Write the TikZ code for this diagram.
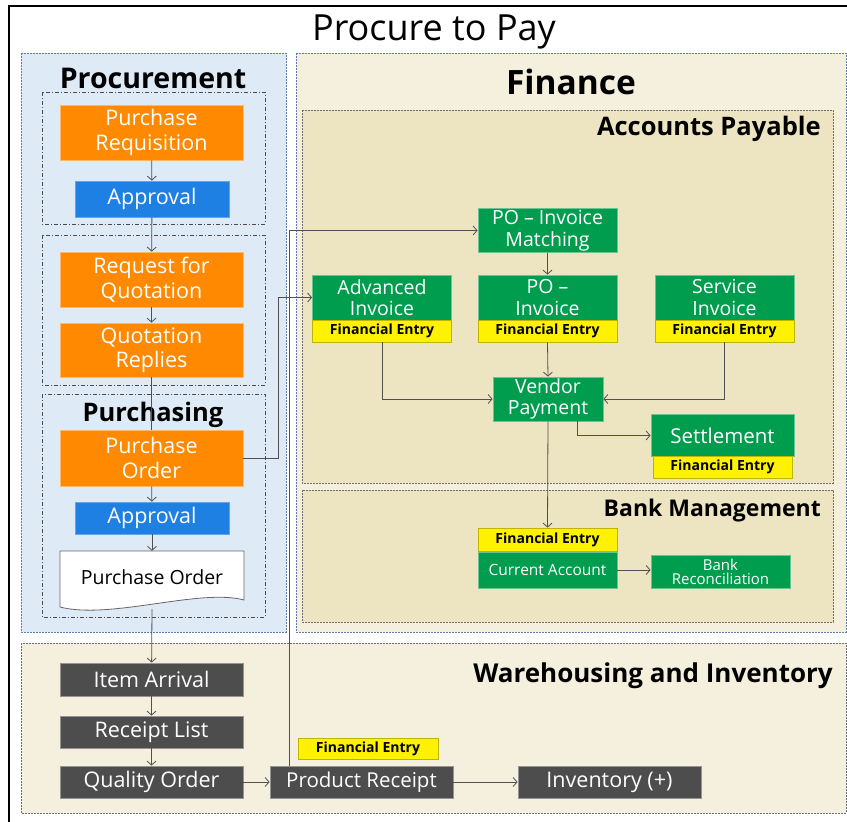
\documentclass[tikz,border=0pt]{standalone}
\usepackage{fontspec}
\setmainfont{Open Sans}
\usetikzlibrary{arrows.meta}

\definecolor{procorange}{RGB}{255,137,0}
\definecolor{approvblue}{RGB}{30,128,226}
\definecolor{fingreen}{RGB}{0,157,78}
\definecolor{entryyellow}{RGB}{255,242,0}
\definecolor{whgray}{RGB}{77,77,77}
\definecolor{procpanel}{RGB}{222,235,247}
\definecolor{finpanel}{RGB}{245,240,221}
\definecolor{apfill}{RGB}{237,228,193}
\definecolor{dotblue}{RGB}{95,122,178}
\definecolor{dotgray}{RGB}{110,110,110}
\definecolor{flowgray}{RGB}{80,80,80}

\tikzset{
  panel/.style={dash pattern=on 1.6pt off 1.4pt, line width=1pt},
  group/.style={draw=black!70, dash pattern=on 4pt off 2pt on 1pt off 2pt, line width=0.7pt},
  box/.style={inner sep=0pt, align=center, text=white, line width=0.8pt},
  orangebox/.style={box, fill=procorange, draw=procorange!60!white, minimum width=183pt,
    font=\fontsize{21.5}{24.5}\selectfont},
  bluebox/.style={box, fill=approvblue, draw=approvblue!70!white, minimum width=154pt,
    font=\fontsize{21.5}{24.5}\selectfont},
  greenbox/.style={box, fill=fingreen, draw=fingreen!60!white, minimum width=139pt,
    font=\fontsize{19.5}{21.5}\selectfont},
  graybox/.style={box, fill=whgray, draw=whgray!60!white, minimum width=183pt, minimum height=32pt,
    font=\fontsize{21.5}{24}\selectfont},
  entrybox/.style={box, text=black, fill=entryyellow, draw=entryyellow!75!black, minimum width=139pt,
    minimum height=22pt, font=\bfseries\fontsize{14}{16}\selectfont},
  heading/.style={inner sep=0pt, font=\bfseries\fontsize{#1}{#1}\selectfont},
  flow/.style={draw=flowgray, line width=0.8pt, -{Straight Barb[length=4pt,width=9pt]}},
}

\begin{document}
\begin{tikzpicture}[x=1pt,y=-1pt]
  \useasboundingbox (0,0) rectangle (847,822);

  % outer frame
  \draw[line width=2pt] (9,822) -- (9,6) -- (847,6);
  \node (title) at (434,32) {\fontsize{36}{40}\selectfont Procure to Pay};

  % panels
  \filldraw[panel, fill=procpanel, draw=dotblue] (21,53) rectangle (286,632);
  \filldraw[panel, fill=finpanel, draw=dotblue] (296,53) rectangle (846,632);
  \filldraw[panel, fill=apfill, draw=dotgray] (302,110) rectangle (833,483);
  \filldraw[panel, fill=apfill, draw=dotgray] (302,490) rectangle (833,622);
  \filldraw[panel, fill=finpanel, draw=dotgray] (21,643) rectangle (846,813);

  % procurement groups
  \draw[group] (42,92) rectangle (265,224);
  \draw[group] (42,235) rectangle (265,385);
  \draw[group] (42,394) rectangle (265,617);

  \node[heading=28.5] (procurement) at (153,78) {Procurement};
  \node[heading=33.5] (finance) at (571,82) {Finance};
  \node[heading=25.5, anchor=east] (payable) at (821,129) {Accounts Payable};
  \node[heading=23, anchor=east] (bankmgmt) at (821,511) {Bank Management};
  \node[heading=26, anchor=east] (warehousing) at (833,676) {Warehousing and Inventory};

  % Procurement
  \node[orangebox, minimum height=55pt] (prequisition) at (151.5,132.5) {Purchase\\Requisition};
  \node[bluebox, minimum height=36pt] (approval1) at (152,199) {Approval};
  \node[orangebox, minimum height=55pt] (quoterequest) at (151.5,279.5) {Request for\\Quotation};
  \node[orangebox, minimum height=54pt] (quotereplies) at (151.5,350) {Quotation\\Replies};
  \node[orangebox, minimum height=56pt] (porder) at (151.5,458) {Purchase\\Order};
  \node[bluebox, minimum height=32pt] (approval2) at (152,518) {Approval};

  % printed purchase order
  \filldraw[fill=white, draw=black!60, line width=0.8pt] (60,551) -- (244,551) -- (244,600)
    .. controls (200,588) and (110,620) .. (60,607) -- cycle;
  \node[inner sep=0pt, minimum width=184pt, minimum height=52pt,
    font=\fontsize{19.5}{22}\selectfont] (podoc) at (152,577) {Purchase Order};

  \node[heading=25.5] (purchasing) at (153,415) {Purchasing};

  % Accounts Payable
  \node[greenbox, minimum height=44pt] (matching) at (547.5,230.5) {PO -- Invoice\\Matching};
  \node[greenbox, minimum height=45pt] (advinvoice) at (382,297.5) {Advanced\\Invoice};
  \node[entrybox] (advinvoice-fe) at (382,331) {Financial Entry};
  \node[greenbox, minimum height=45pt] (poinvoice) at (547.5,297.5) {PO --\\Invoice};
  \node[entrybox] (poinvoice-fe) at (547.5,331) {Financial Entry};
  \node[greenbox, minimum height=45pt] (servinvoice) at (724.5,297.5) {Service\\Invoice};
  \node[entrybox] (servinvoice-fe) at (724.5,331) {Financial Entry};
  \node[greenbox, minimum width=110pt, minimum height=44pt] (vpayment) at (548,399) {Vendor\\Payment};
  \node[greenbox, minimum width=143pt, minimum height=42pt, font=\fontsize{20.5}{22}\selectfont] (settlement) at (722.5,435.5) {Settlement};
  \node[entrybox] (settlement-fe) at (722.5,467) {Financial Entry};

  % Bank Management
  \node[entrybox, minimum height=23pt] (bank-fe) at (547.5,539.5) {Financial Entry};
  \node[greenbox, minimum height=36pt, font=\fontsize{15.5}{18}\selectfont] (curaccount) at (547.5,570) {Current Account};
  \node[greenbox, minimum height=33pt, font=\fontsize{15}{14}\selectfont] (bankrecon) at (720.5,571.5) {Bank\\Reconciliation};

  % Warehousing and Inventory
  \node[graybox, minimum height=33pt] (itemarrival) at (151.5,679.5) {Item Arrival};
  \node[graybox] (receiptlist) at (151.5,732) {Receipt List};
  \node[graybox] (qualityorder) at (151.5,782) {Quality Order};
  \node[graybox, font=\fontsize{20.5}{24}\selectfont] (prodreceipt) at (361.5,782) {Product Receipt};
  \node[entrybox, minimum width=140pt, minimum height=21pt] (prodreceipt-fe) at (368,748.5) {Financial Entry};
  \node[graybox] (inventory) at (609.5,782) {Inventory (+)};

  % flow
  \draw[flow] (prequisition) -- (approval1);
  \draw[flow] (approval1) -- (quoterequest);
  \draw[flow] (quoterequest) -- (quotereplies);
  \draw[draw=flowgray, line width=0.8pt] (quotereplies) -- (porder);
  \draw[flow] (porder) -- (approval2);
  \draw[flow] (approval2) -- (podoc);
  \draw[flow] ([yshift=-6pt]podoc.south) -- (itemarrival);
  \draw[flow] (itemarrival) -- (receiptlist);
  \draw[flow] (receiptlist) -- (qualityorder);
  \draw[flow] (qualityorder) -- (prodreceipt);
  \draw[flow] (prodreceipt) -- (inventory);
  \draw[flow] (porder.east) -- ++(35pt,0) |- (advinvoice.west);
  \draw[flow] ([xshift=20pt]prodreceipt.north west) |- (matching.west);
  \draw[flow] (matching) -- (poinvoice);
  \draw[flow] (advinvoice-fe.south) |- (vpayment.west);
  \draw[flow] (poinvoice-fe.south) -- (vpayment.north);
  \draw[flow] (servinvoice-fe.south) |- (vpayment.east);
  \draw[flow] ([xshift=-26pt]vpayment.south east) |- (settlement.west);
  \draw[flow] (vpayment.south) -- (bank-fe.north);
  \draw[flow] (curaccount.east) -- (curaccount.east -| bankrecon.west);
\end{tikzpicture}
\end{document}
